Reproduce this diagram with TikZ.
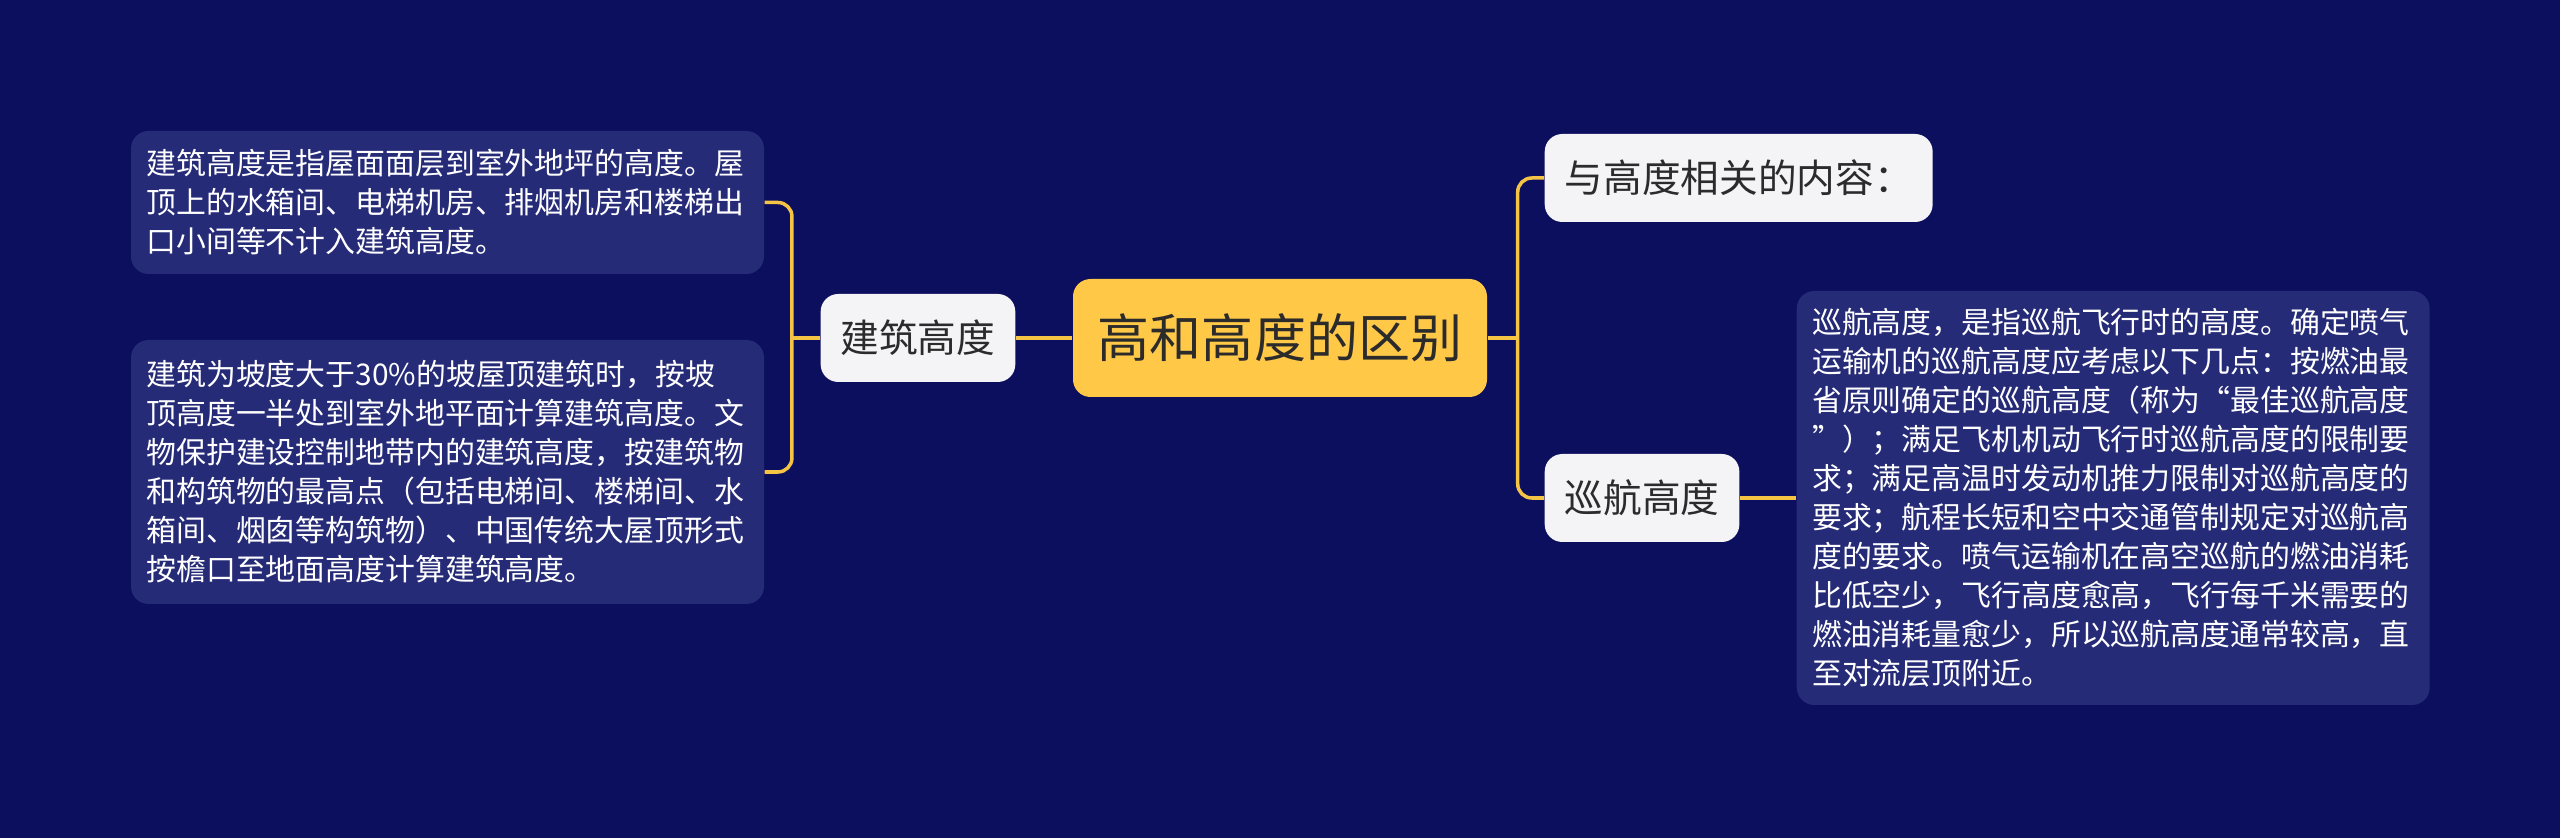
\documentclass[tikz,border=0pt]{standalone}
\usepackage{fontspec}
\setmainfont{Noto Sans CJK SC}
\usepackage{tikz}
\definecolor{mapbg}{HTML}{0B0F5E}
\definecolor{mapbox}{HTML}{262B78}
\definecolor{mapline}{HTML}{F5C445}
\definecolor{mapgold}{HTML}{FFC847}
\definecolor{mapleaf}{HTML}{F4F4F6}
\definecolor{mapink}{HTML}{2B2B2B}

\begin{document}
\begin{tikzpicture}[
    topic/.style={fill=mapgold, rounded corners=5pt, minimum width=4.14cm,
                  minimum height=1.18cm, font=\fontsize{14.8}{18}\selectfont, text=mapink},
    sub/.style={fill=mapleaf, rounded corners=5pt, minimum height=0.88cm,
                inner xsep=0.2cm, font=\fontsize{11}{13}\selectfont, text=mapink},
    txt/.style={fill=mapbox, rounded corners=5pt, text width=6.02cm, inner xsep=0.155cm,
                align=left, font=\fontsize{8.5}{11.1}\selectfont, text=white},
    link/.style={draw=mapline, line width=1pt, rounded corners=4pt},
]
    % Background
    \useasboundingbox (0, 0) rectangle (25.6, -8.38);
    \fill[mapbg] (0, 0) rectangle (25.6, -8.38);

    % Topic
    \node[topic] (root) at (12.80, -3.38) {高和高度的区别};

    % Left branch
    \node[sub, anchor=east] (jz) at (10.16, -3.38) {建筑高度};
    \node[txt, minimum height=1.43cm] (jz1) at (4.475, -2.025) {建筑高度是指屋面面层到室外地坪的高度。屋\\
        顶上的水箱间、电梯机房、排烟机房和楼梯出\\
        口小间等不计入建筑高度。};
    \node[txt, minimum height=2.64cm] (jz2) at (4.475, -4.72) {建筑为坡度大于30\%的坡屋顶建筑时，按坡\\
        顶高度一半处到室外地平面计算建筑高度。文\\
        物保护建设控制地带内的建筑高度，按建筑物\\
        和构筑物的最高点（包括电梯间、楼梯间、水\\
        箱间、烟囱等构筑物）、中国传统大屋顶形式\\
        按檐口至地面高度计算建筑高度。};

    % Right branch
    \node[sub, anchor=west] (xg) at (15.44, -1.78) {与高度相关的内容：};
    \node[sub, anchor=west] (xh) at (15.44, -4.98) {巡航高度};
    \node[txt, minimum height=4.14cm, anchor=west] (xh1) at (17.96, -4.98) {巡航高度，是指巡航飞行时的高度。确定喷气\\
        运输机的巡航高度应考虑以下几点：按燃油最\\
        省原则确定的巡航高度（称为“最佳巡航高度\\
        ”）；满足飞机机动飞行时巡航高度的限制要\\
        求；满足高温时发动机推力限制对巡航高度的\\
        要求；航程长短和空中交通管制规定对巡航高\\
        度的要求。喷气运输机在高空巡航的燃油消耗\\
        比低空少，飞行高度愈高，飞行每千米需要的\\
        燃油消耗量愈少，所以巡航高度通常较高，直\\
        至对流层顶附近。};

    % Forks
    \path (jz.west) ++(-0.28, 0) coordinate (jzfork);
    \path (root.east) ++(0.30, 0) coordinate (rootfork);

    % Links
    \draw[link] (root.west) -- (jz.east);
    \draw[link] (jz.west) -- (jzfork);
    \draw[link] (jz1.east) -| (jzfork) |- (jz2.east);
    \draw[link] (root.east) -- (rootfork);
    \draw[link] (xg.west) -| (rootfork) |- (xh.west);
    \draw[link] (xh.east) -- (xh1.west);
\end{tikzpicture}
\end{document}
